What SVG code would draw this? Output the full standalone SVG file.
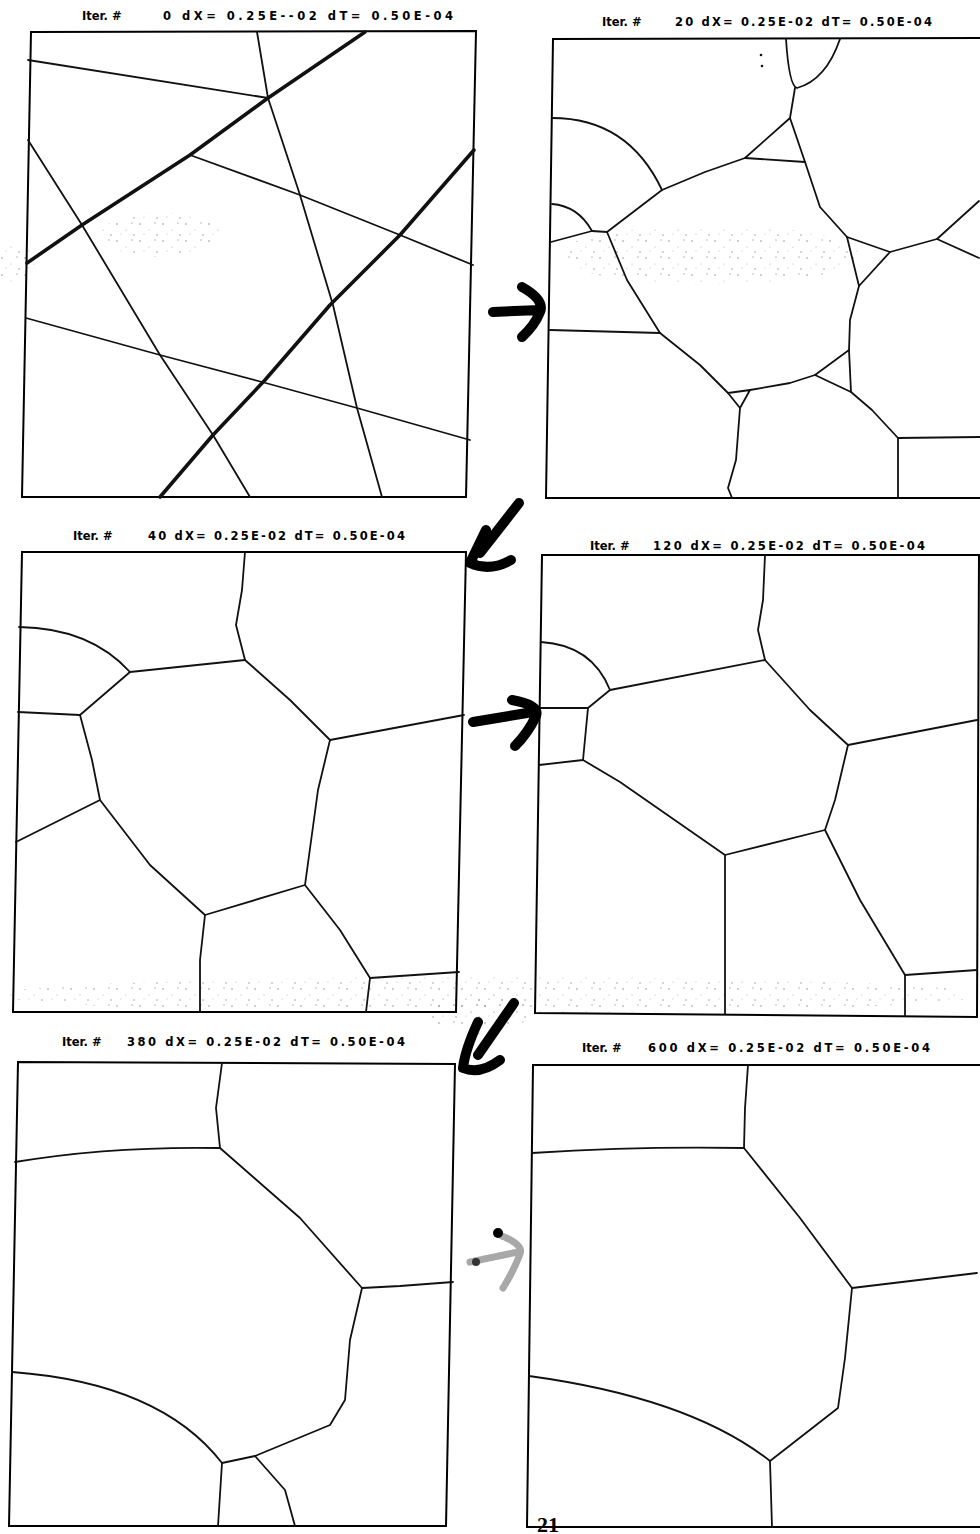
<svg xmlns="http://www.w3.org/2000/svg" width="980" height="1534" viewBox="0 0 980 1534">
<style>
.bg{fill:#fff}
.frame{fill:none;stroke:#000;stroke-width:2}
.gb{fill:none;stroke:#111;stroke-width:1.8;stroke-linejoin:round;stroke-linecap:round}
.thick{stroke-width:3.6}
.arrow{fill:none;stroke:#000;stroke-width:10;stroke-linecap:round;stroke-linejoin:round}
.faint{fill:none;stroke:#a8a8a8;stroke-width:7;stroke-linecap:round;stroke-linejoin:round;stroke-dasharray:2 2}
.title{font-family:"DejaVu Sans","Liberation Sans",sans-serif;font-weight:bold;font-size:11.5px;fill:#000}
.pg{font-family:"Liberation Serif","Times New Roman",serif;font-weight:bold;font-size:22px;fill:#000}
.speck{fill:url(#dots)}
</style>
<defs>
<pattern id="dots" width="23" height="17" patternUnits="userSpaceOnUse">
<circle cx="2" cy="3" r="0.8" fill="#666"/>
<circle cx="11" cy="9" r="0.6" fill="#888"/>
<circle cx="17" cy="2" r="0.7" fill="#777"/>
<circle cx="6" cy="13" r="0.6" fill="#999"/>
<circle cx="19" cy="14" r="0.8" fill="#777"/>
</pattern>
</defs>
<rect class="bg" x="0" y="0" width="980" height="1534"/>

<g id="speckle" opacity="0.7">
<ellipse class="speck" cx="160" cy="235" rx="60" ry="22"/>
<ellipse class="speck" cx="15" cy="262" rx="20" ry="20"/>
<ellipse class="speck" cx="710" cy="255" rx="150" ry="30"/>
<ellipse class="speck" cx="490" cy="995" rx="490" ry="18"/>
<ellipse class="speck" cx="480" cy="1012" rx="50" ry="22"/>
</g>

<g id="panel1">
<text class="title" x="82" y="20">Iter. #</text>
<text class="title" x="163" y="20" textLength="290" lengthAdjust="spacing">0 dX= 0.25E--02 dT= 0.50E-04</text>
<polygon class="frame" points="31,32 476,31 466,497 22,497"/>
<polyline class="gb thick" points="365,32 268,98 190,155 82,225 27,263"/>
<polyline class="gb thick" points="474,150 400,235 330,305 265,380 213,435 160,497"/>
<polyline class="gb" points="257,32 268,98 300,195 333,305 357,408 382,497"/>
<polyline class="gb" points="28,60 268,98"/>
<polyline class="gb" points="28,140 82,225 160,355 213,435 250,497"/>
<polyline class="gb" points="190,155 300,195 400,235 473,265"/>
<polyline class="gb" points="26,318 160,355 262,382 357,408 470,440"/>
</g>

<g id="panel2">
<text class="title" x="602" y="26">Iter. #</text>
<text class="title" x="675" y="26" textLength="257" lengthAdjust="spacing">20 dX= 0.25E-02 dT= 0.50E-04</text>
<polyline class="frame" points="985,38 553,39 546,498 985,498"/>
<circle cx="761" cy="55" r="1.3" fill="#111"/>
<circle cx="762" cy="66" r="1.3" fill="#111"/>
<path class="gb" d="M786,39 Q789,86 797,88 Q826,80 840,39"/>
<polyline class="gb" points="795,88 790,118"/>
<polyline class="gb" points="790,118 745,158 805,162 790,118"/>
<path class="gb" d="M552,118 Q628,118 662,190"/>
<path class="gb" d="M552,204 Q578,206 592,231"/>
<polyline class="gb" points="551,242 592,231 607,232 662,190 705,172 745,158"/>
<polyline class="gb" points="805,162 820,207 847,237 890,252 937,239 979,201"/>
<polyline class="gb" points="937,239 979,258"/>
<polyline class="gb" points="847,237 859,286 890,252"/>
<polyline class="gb" points="859,286 850,320 849,350"/>
<polyline class="gb" points="815,375 849,350 851,392 815,375"/>
<polyline class="gb" points="607,232 627,280 660,333 700,365 728,393"/>
<polyline class="gb" points="550,330 660,333"/>
<polyline class="gb" points="728,393 750,390 740,408 728,393"/>
<polyline class="gb" points="750,390 790,383 815,375"/>
<polyline class="gb" points="740,408 736,460 728,488 732,498"/>
<polyline class="gb" points="851,392 872,410 898,438 980,437"/>
<polyline class="gb" points="898,438 898,498"/>
</g>

<g id="panel3">
<text class="title" x="73" y="540">Iter. #</text>
<text class="title" x="148" y="540" textLength="257" lengthAdjust="spacing">40 dX= 0.25E-02 dT= 0.50E-04</text>
<polygon class="frame" points="22,552 466,552 456,1012 13,1012"/>
<polyline class="gb" points="245,552 242,590 236,625 245,660"/>
<path class="gb" d="M19,627 Q90,628 130,672"/>
<polyline class="gb" points="245,660 130,672 80,715 18,712"/>
<polyline class="gb" points="80,715 92,760 100,800 16,842"/>
<polyline class="gb" points="100,800 150,865 205,915 305,885"/>
<polyline class="gb" points="245,660 290,700 330,740 464,715"/>
<polyline class="gb" points="330,740 318,790 305,885 340,930 370,978 459,972"/>
<polyline class="gb" points="205,915 200,960 200,1012"/>
<polyline class="gb" points="370,978 366,1012"/>
</g>

<g id="panel4">
<text class="title" x="590" y="550">Iter. #</text>
<text class="title" x="653" y="550" textLength="272" lengthAdjust="spacing">120 dX= 0.25E-02 dT= 0.50E-04</text>
<polyline class="frame" points="985,555 542,555 535,1013 977,1017 979,555"/>
<polyline class="gb" points="765,555 763,600 758,630 765,660"/>
<path class="gb" d="M541,642 Q592,645 610,690"/>
<polyline class="gb" points="765,660 610,690 588,708 540,708"/>
<polyline class="gb" points="588,708 583,760 539,765"/>
<polyline class="gb" points="583,760 620,782 725,855 825,830"/>
<polyline class="gb" points="765,660 810,710 848,745 977,720"/>
<polyline class="gb" points="848,745 835,800 825,830 860,900 905,975 977,970"/>
<polyline class="gb" points="725,855 725,1014"/>
<polyline class="gb" points="905,975 905,1016"/>
</g>

<g id="panel5">
<text class="title" x="62" y="1046">Iter. #</text>
<text class="title" x="127" y="1046" textLength="278" lengthAdjust="spacing">380 dX= 0.25E-02 dT= 0.50E-04</text>
<polygon class="frame" points="18,1062 455,1064 446,1526 9,1526"/>
<polyline class="gb" points="222,1063 216,1108 220,1148"/>
<path class="gb" d="M15,1162 Q110,1146 220,1148"/>
<polyline class="gb" points="220,1148 300,1218 362,1288 400,1286 453,1282"/>
<polyline class="gb" points="362,1288 350,1340 345,1400 330,1425 255,1456"/>
<path class="gb" d="M12,1372 Q160,1383 222,1463"/>
<polyline class="gb" points="222,1463 255,1456 285,1490 295,1526"/>
<polyline class="gb" points="222,1463 218,1526"/>
</g>

<g id="panel6">
<text class="title" x="582" y="1052">Iter. #</text>
<text class="title" x="648" y="1052" textLength="282" lengthAdjust="spacing">600 dX= 0.25E-02 dT= 0.50E-04</text>
<polyline class="frame" points="985,1065 533,1065 527,1527 985,1527"/>
<polyline class="gb" points="748,1065 745,1108 744,1148"/>
<path class="gb" d="M532,1153 Q640,1146 744,1148"/>
<polyline class="gb" points="744,1148 800,1218 852,1288 977,1273"/>
<polyline class="gb" points="852,1288 845,1358 838,1408 770,1461"/>
<path class="gb" d="M529,1376 Q690,1398 770,1461"/>
<polyline class="gb" points="770,1461 772,1527"/>
<text class="pg" x="537" y="1532">21</text>
</g>

<g id="connectors">
<path class="arrow" d="M493,312 L540,310 M522,287 Q545,300 540,312 Q535,325 522,337"/>
<path class="arrow" d="M519,503 L480,553 M486,530 L470,563 Q490,572 511,560"/>
<path class="arrow" d="M473,722 L533,712 M512,700 Q540,705 536,716 Q528,733 515,746"/>
<path class="arrow" d="M514,1003 L478,1055 M478,1022 Q465,1050 463,1068 Q480,1075 500,1060"/>
<path class="faint" d="M470,1262 L518,1252 M502,1236 Q524,1245 520,1254 Q514,1270 503,1288"/>
<circle cx="498" cy="1233" r="5" fill="#000"/>
<circle cx="476" cy="1262" r="4" fill="#333"/>
</g>
</svg>
